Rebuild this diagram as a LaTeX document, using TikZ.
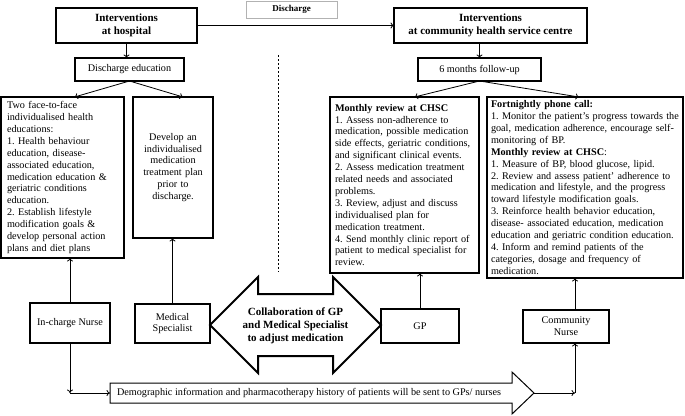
\documentclass[tikz,border=0pt]{standalone}
\usepackage{fontspec}
\setmainfont{Liberation Serif}
\usetikzlibrary{arrows.meta}
\frenchspacing

\begin{document}
\begin{tikzpicture}
[x=1pt,y=-1pt,%
  every node/.style={inner sep=0pt,outer sep=0pt},%
  txt/.style={font=\fontsize{10.2}{11.9}\selectfont},%
  head/.style={draw,line width=2.2pt,align=center,font=\fontsize{11}{13}\selectfont\bfseries},%
  stage/.style={draw,line width=2pt,txt},%
  actor/.style={draw,line width=2pt,txt,align=center},%
  content/.style={draw,line width=1.2pt,txt,align=left,inner xsep=5pt},%
  conn/.style={-{To[length=3.5pt,width=6pt]},line width=0.8pt}]
\useasboundingbox (0,0) rectangle (685,415);

% top row
\node[draw=gray!60,line width=0.8pt,minimum width=91pt,minimum height=17pt,
  font=\fontsize{9}{10}\selectfont\bfseries] (disch) at (291.5,9.5) {Discharge};
\node[head,minimum width=141pt,minimum height=35pt] (hosp) at (126.5,25.5)
  {Interventions\\at hospital};
\node[head,minimum width=193pt,minimum height=35pt] (chsc) at (490.5,25.5)
  {Interventions\\at community health service centre};
\node[stage,minimum width=109pt,minimum height=23pt] (educ) at (129.5,69.5)
  {Discharge education};
\node[stage,minimum width=123pt,minimum height=23pt] (follow) at (479.5,69.5)
  {6 months follow-up};

% hospital side
\node[content,inner xsep=6pt,text width=111pt,minimum height=161pt] (edu) at (62.5,177.5)
  {Two face-to-face\\
   individualised health\\
   educations:\\
   1. Health behaviour\\
   education, disease-\\
   associated education,\\
   medication education \&\\
   geriatric conditions\\
   education.\\
   2. Establish lifestyle\\
   modification goals \&\\
   develop personal action\\
   plans and diet plans};
\node[content,align=center,text width=70pt,minimum height=141pt] (plan) at (173,167.5)
  {Develop an\\ individualised\\ medication\\ treatment plan\\ prior to\\ discharge.};

% community side
\node[content,text width=139pt,minimum height=176pt] (monthly) at (404.5,185)
  {\textbf{Monthly review at CHSC}\\
   1. Assess non-adherence to\\
   medication, possible medication\\
   side effects, geriatric conditions,\\
   and significant clinical events.\\
   2. Assess medication treatment\\
   related needs and associated\\
   problems.\\
   3. Review, adjust and discuss\\
   individualised plan for\\
   medication treatment.\\
   4. Send monthly clinic report of\\
   patient to medical specialist for\\
   review.};
\node[content,inner xsep=4pt,text width=188pt,minimum height=181pt] (fort) at (585,187.5)
  {\textbf{Fortnightly phone call:}\\
   1. Monitor the patient’s progress towards the\\
   goal, medication adherence, encourage self-\\
   monitoring of BP.\\
   \textbf{Monthly review at CHSC}:\\
   1. Measure of BP, blood glucose, lipid.\\
   2. Review and assess patient’ adherence to\\
   medication and lifestyle, and the progress\\
   toward lifestyle modification goals.\\
   3. Reinforce health behavior education,\\
   disease- associated education, medication\\
   education and geriatric condition education.\\
   4. Inform and remind patients of the\\
   categories, dosage and frequency of\\
   medication.};

% people
\node[actor,minimum width=80pt,minimum height=40pt] (nurse) at (70,323) {In-charge Nurse};
\node[actor,minimum width=75pt,minimum height=39pt] (spec) at (172.5,323.5) {Medical\\Specialist};
\node[actor,minimum width=78pt,minimum height=34pt] (gp) at (420,326) {GP};
\node[actor,minimum width=86pt,minimum height=33pt] (cnurse) at (566,326.5) {Community\\Nurse};

% collaboration arrow
\draw[line width=2pt,line join=miter] (210,325) -- (258,277) -- (258,294) -- (333,294)
  -- (333,277) -- (381,325) -- (333,373) -- (333,356) -- (258,356) -- (258,373) -- cycle;
\node[align=center,font=\fontsize{11}{13}\selectfont\bfseries] (collab) at (295.5,326)
  {Collaboration of GP\\and Medical Specialist\\to adjust medication};

% information arrow
\coordinate (infoL) at (110,393);
\coordinate (infoT) at (534,393);
\draw[line width=1pt] (110,383) -- (512,383) -- (512,372) -- (infoT) -- (512,414)
  -- (512,403) -- (110,403) -- cycle;
\node[txt,anchor=west] (info) at (117,393)
  {Demographic information and pharmacotherapy history of patients will be sent to GPs/ nurses};

% divider
\draw[line width=0.6pt,dash pattern=on 2pt off 2pt] (278,55) -- (278,272);

% connectors
\draw[conn] (hosp.east) -- (hosp.east -| chsc.west);
\draw[conn] (hosp.south) -- (hosp.south |- educ.north);
\draw[conn] (follow.north |- chsc.south) -- (follow.north);
\draw[conn] (educ.south) -- ([xshift=12pt]edu.north);
\draw[conn] (educ.south) -- ([xshift=10pt]plan.north);
\draw[conn] (follow.south) -- ([xshift=10pt]monthly.north);
\draw[conn] (follow.south) -- ([xshift=-6pt]fort.north);
\draw[conn] (nurse.north) -- (nurse.north |- edu.south);
\draw[conn] (spec.north) -- (spec.north |- plan.south);
\draw[conn] (gp.north) -- (gp.north |- monthly.south);
\draw[conn] ([xshift=9pt]cnurse.north) -- ([xshift=9pt]cnurse.north |- fort.south);
\coordinate (bendL) at (nurse.south |- infoL);
\coordinate (bendR) at ([xshift=9pt]cnurse.south |- infoT);
\draw[conn] (nurse.south) -- (bendL);
\draw[conn] (bendL) -- (infoL);
\draw[conn] (infoT) -- (bendR);
\draw[conn] (bendR) -- ([xshift=9pt]cnurse.south);
\end{tikzpicture}
\end{document}
